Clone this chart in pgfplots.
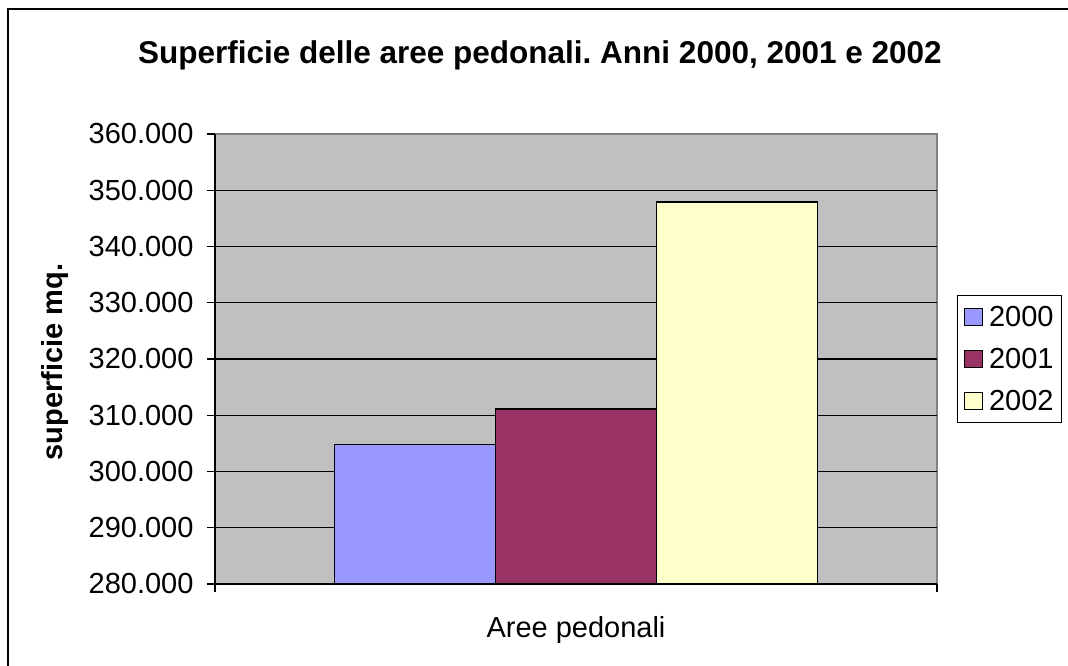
\documentclass[border=0pt]{standalone}
\usepackage{pgfplots}
\pgfplotsset{compat=1.18}
\usepackage{fontspec}
\setmainfont{Liberation Sans}

\definecolor{plotgray}{HTML}{C0C0C0}
\definecolor{c2000}{HTML}{9999FF}
\definecolor{c2001}{HTML}{993366}
\definecolor{c2002}{HTML}{FFFFCC}

\begin{document}
\begin{tikzpicture}
\clip (0pt,0pt) rectangle (1068pt,666pt);
\draw[line width=2pt] (7.5pt,657pt) rectangle (1090pt,-20pt);
\begin{axis}[
  at={(215pt,82pt)}, anchor=south west,
  scale only axis, width=722pt, height=450pt,
  ybar=0pt, bar width=161pt,
  xmin=-1, xmax=1, ymin=280000, ymax=360000,
  xtick={-1,1}, xticklabels={},
  ytick={280000,290000,...,360000},
  extra y ticks={290000,300000,...,350000}, extra y tick labels={},
  extra y tick style={grid=major, major tick length=0pt},
  y grid style={black, line width=1.3pt},
  scaled y ticks=false,
  /pgf/number format/fixed, /pgf/number format/precision=0,
  /pgf/number format/1000 sep={.}, /pgf/number format/assume math mode=true,
  ticklabel style={font=\fontsize{29}{34}\selectfont},
  yticklabel style={xshift=-10pt},
  tick align=outside, major tick length=8pt,
  tick style={black, line width=1.3pt},
  xtick pos=bottom, ytick pos=left,
  axis x line*=bottom, axis y line*=left,
  axis line style={-, black, line width=1.5pt},
  axis background/.style={fill=plotgray, draw=gray, line width=1.2pt},
  title={\bfseries Superficie delle aree pedonali.\ Anni 2000, 2001 e 2002},
  title style={at={(axis description cs:0.450,1.162)}, anchor=center, font=\fontsize{31.5}{36}\selectfont},
  ylabel={\bfseries superficie mq.},
  ylabel style={at={(axis description cs:-0.2216,0.493)}, anchor=center, font=\fontsize{29}{34}\selectfont},
  xlabel={Aree pedonali},
  xlabel style={at={(axis description cs:0.5,-0.102)}, anchor=center, font=\fontsize{29}{34}\selectfont},
  legend style={draw=black, line width=1.2pt, fill=white, at={(1.0277,0.5)}, anchor=west,
    font=\fontsize{29}{34}\selectfont, inner xsep=6pt, inner ysep=11pt, row sep=20pt,
    nodes={inner xsep=2pt, inner ysep=0pt}},
  legend cell align=left,
  legend image code/.code={\draw[#1, line width=1pt] (0pt,-8.5pt) rectangle (18pt,8.5pt);
    \path (0pt,0pt) (22pt,0pt);},
]
\addplot[fill=c2000, draw=black, line width=1.5pt] coordinates {(0,304800)};
\addplot[fill=c2001, draw=black, line width=1.5pt] coordinates {(0,311100)};
\addplot[fill=c2002, draw=black, line width=1.5pt] coordinates {(0,347900)};
\legend{2000,2001,2002}
\end{axis}
\end{tikzpicture}
\end{document}
